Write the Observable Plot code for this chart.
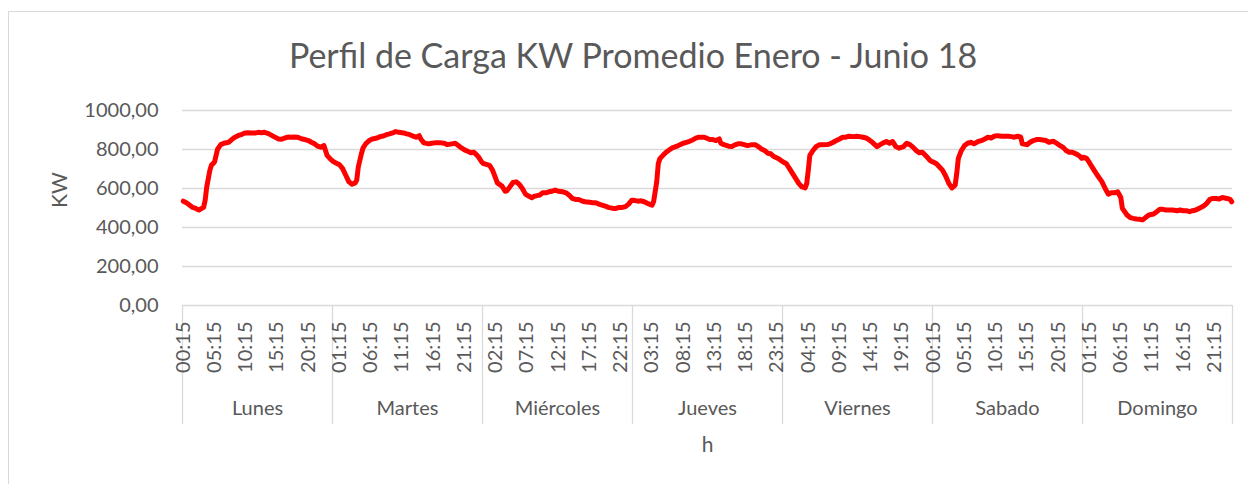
<!DOCTYPE html>
<html>
<head>
<meta charset="utf-8">
<script src="https://cdn.jsdelivr.net/npm/d3@7"></script>
<script src="https://cdn.jsdelivr.net/npm/@observablehq/plot@0.6"></script>
<style>
  html, body { margin: 0; padding: 0; background: #fff; }
  body { width: 1248px; height: 484px; overflow: hidden; position: relative; font-family: Lato, sans-serif; }
  #frame { position: absolute; left: 8px; top: 11px; width: 1260px; height: 500px; border: 1px solid #d9d9d9; box-sizing: border-box; }
  #title { position: absolute; left: 8px; top: 34px; width: 1250px; text-align: center; font-family: Lato, sans-serif; font-size: 34px; color: #595959; line-height: normal; white-space: nowrap; }
  #chart { position: absolute; left: 0; top: 90px; }
</style>
</head>
<body>
<div id="frame"></div>
<div id="title">Perfil de Carga KW Promedio Enero - Junio 18</div>
<div id="chart"></div>
<script>
const days = ["Lunes", "Martes", "Miércoles", "Jueves", "Viernes", "Sabado", "Domingo"];
const yTicks = [0, 200, 400, 600, 800, 1000];
const tickLabels = ["00:15","05:15","10:15","15:15","20:15","01:15","06:15","11:15","16:15","21:15",
  "02:15","07:15","12:15","17:15","22:15","03:15","08:15","13:15","18:15","23:15",
  "04:15","09:15","14:15","19:15","00:15","05:15","10:15","15:15","20:15","01:15",
  "06:15","11:15","16:15","21:15"];
const slotsPerDay = 96;   // 15-minute intervals per day
const tickEvery = 20;    // one tick label every 20 intervals

// [15-min interval within the day (0 = 00:15), kW]
const lunes = [[0,535],[2,527],[4,515],[6,503],[8,498],[10,490],[13,503],[14,540],[15,608],[17,693],[18,719],[20,736],[21,770],[22,803],[24,825],[26,832],[29,837],[31,851],[33,863],[35,871],[37,876],[39,883],[41,886],[44,885],[46,885],[48,888],[50,886],[52,888],[54,883],[56,875],[58,866],[61,854],[63,853],[65,859],[67,864],[69,863],[71,864],[73,863],[76,854],[78,851],[80,846],[82,837],[84,829],[86,817],[88,812],[90,820],[92,770],[94,753],[95,745]];
const martes = [[0,738],[2,730],[4,722],[6,702],[8,668],[10,634],[12,622],[14,629],[15,642],[16,710],[18,778],[19,807],[21,832],[23,846],[25,854],[28,859],[30,866],[32,869],[34,876],[36,880],[38,885],[40,892],[42,888],[45,885],[47,880],[49,876],[51,869],[53,863],[55,871],[56,854],[58,834],[61,829],[63,832],[65,834],[67,834],[69,834],[71,832],[73,825],[76,829],[78,832],[80,820],[82,808],[84,798],[86,791],[88,783],[90,786],[93,761],[95,736]];
const miercoles = [[0,728],[2,724],[4,719],[6,693],[8,651],[9,629],[12,612],[14,586],[15,588],[17,608],[19,631],[21,634],[23,622],[25,600],[27,571],[29,561],[31,553],[33,561],[36,566],[38,578],[40,578],[42,583],[44,586],[46,592],[48,586],[51,583],[53,578],[55,566],[57,549],[59,544],[61,544],[63,537],[65,532],[68,529],[70,527],[72,527],[74,520],[76,515],[78,510],[80,503],[83,498],[85,498],[87,503],[89,503],[91,507],[93,520],[95,540]];
const jueves = [[0,540],[3,535],[5,537],[7,532],[9,524],[12,515],[13,532],[15,634],[16,727],[17,753],[19,770],[21,786],[23,798],[25,808],[28,817],[30,825],[32,832],[34,837],[36,842],[38,849],[40,858],[42,863],[45,863],[47,858],[49,851],[51,851],[53,846],[55,854],[56,832],[58,825],[61,817],[63,815],[65,824],[67,829],[69,829],[71,825],[73,820],[76,825],[78,825],[80,815],[82,803],[84,795],[86,781],[88,778],[90,764],[93,753],[95,741]];
const viernes = [[0,736],[2,727],[4,702],[6,676],[8,651],[10,625],[12,608],[14,603],[15,625],[16,693],[17,770],[19,795],[21,815],[23,824],[25,824],[28,825],[30,829],[32,837],[34,846],[36,854],[38,863],[40,863],[42,868],[45,866],[47,868],[49,866],[51,863],[53,859],[55,849],[57,837],[60,815],[62,825],[64,834],[66,841],[68,832],[70,841],[72,815],[74,807],[77,815],[79,832],[81,825],[83,812],[85,795],[87,783],[89,786],[92,761],[94,744],[95,738]];
const sabado = [[0,736],[2,727],[4,710],[6,693],[8,663],[10,625],[12,603],[14,617],[15,676],[16,753],[18,795],[20,820],[22,832],[24,837],[26,829],[29,842],[31,846],[33,854],[35,863],[37,859],[39,868],[41,871],[44,868],[46,868],[48,868],[50,866],[52,863],[54,868],[56,863],[57,829],[60,825],[62,837],[64,846],[66,851],[68,851],[70,849],[72,846],[74,837],[77,842],[79,832],[81,820],[83,812],[85,795],[87,786],[89,786],[92,775],[94,764],[95,755]];
const domingo = [[0,760],[2,756],[3,744],[5,719],[7,693],[9,668],[12,634],[14,600],[16,571],[18,578],[20,578],[22,583],[24,554],[25,498],[28,464],[30,451],[32,447],[34,444],[36,442],[38,439],[40,452],[42,464],[45,469],[47,481],[49,493],[51,493],[53,490],[55,490],[57,490],[60,486],[62,490],[64,486],[66,486],[68,481],[70,486],[72,490],[74,498],[77,510],[79,524],[81,544],[83,549],[85,549],[87,546],[89,554],[92,549],[94,544],[95,532]];

const series = [lunes, martes, miercoles, jueves, viernes, sabado, domingo];
const data = series.flatMap((arr, d) => arr.map(([s, kw]) => ({i: d * slotsPerDay + s, kw})));
const total = days.length * slotsPerDay;
const tickIdx = tickLabels.map((_, k) => k * tickEvery);
const bounds = d3.range(days.length + 1).map(d => d * slotsPerDay);
const fmt = v => d3.format(".2f")(v).replace(".", ",");
const gray = "#595959";

const H = 394, mTop = 20, mBottom = 179;
const frameH = H - mTop - mBottom;

const chart = Plot.plot({
  width: 1248,
  height: H,
  marginTop: mTop,
  marginBottom: mBottom,
  marginLeft: 182,
  marginRight: 16,
  style: {fontFamily: "Lato, sans-serif", color: gray, background: "transparent"},
  x: {domain: [0, total], axis: null},
  y: {domain: [0, 1000], axis: null},
  marks: [
    Plot.ruleY(yTicks, {stroke: "#d9d9d9", strokeWidth: 1.3}),
    Plot.ruleX(bounds, {stroke: "#d9d9d9", strokeWidth: 1.3, insetTop: frameH, insetBottom: -119}),
    Plot.axisY(yTicks, {tickSize: 0, tickPadding: 24, tickFormat: fmt, fontSize: 20, fill: gray, label: null}),
    Plot.text(["KW"], {frameAnchor: "left", dx: -122, rotate: -90, fontSize: 21, fill: gray}),
    Plot.line(data, {x: d => d.i + 0.5, y: "kw", stroke: "#ff0000", strokeWidth: 5, strokeLinejoin: "round", strokeLinecap: "round"}),
    Plot.text(tickIdx, {x: d => d + 0.5, text: (d, k) => tickLabels[k], frameAnchor: "bottom", dy: 16, rotate: -90, textAnchor: "end", lineAnchor: "middle", fontSize: 20, fill: gray}),
    Plot.text(days, {x: (d, k) => k * slotsPerDay + slotsPerDay / 2, text: d => d, frameAnchor: "bottom", dy: 103, lineAnchor: "middle", fontSize: 20, fill: gray}),
    Plot.text(["h"], {frameAnchor: "bottom", dy: 140, lineAnchor: "middle", fontSize: 21, fill: gray})
  ]
});
document.getElementById("chart").appendChild(chart);
</script>
</body>
</html>
